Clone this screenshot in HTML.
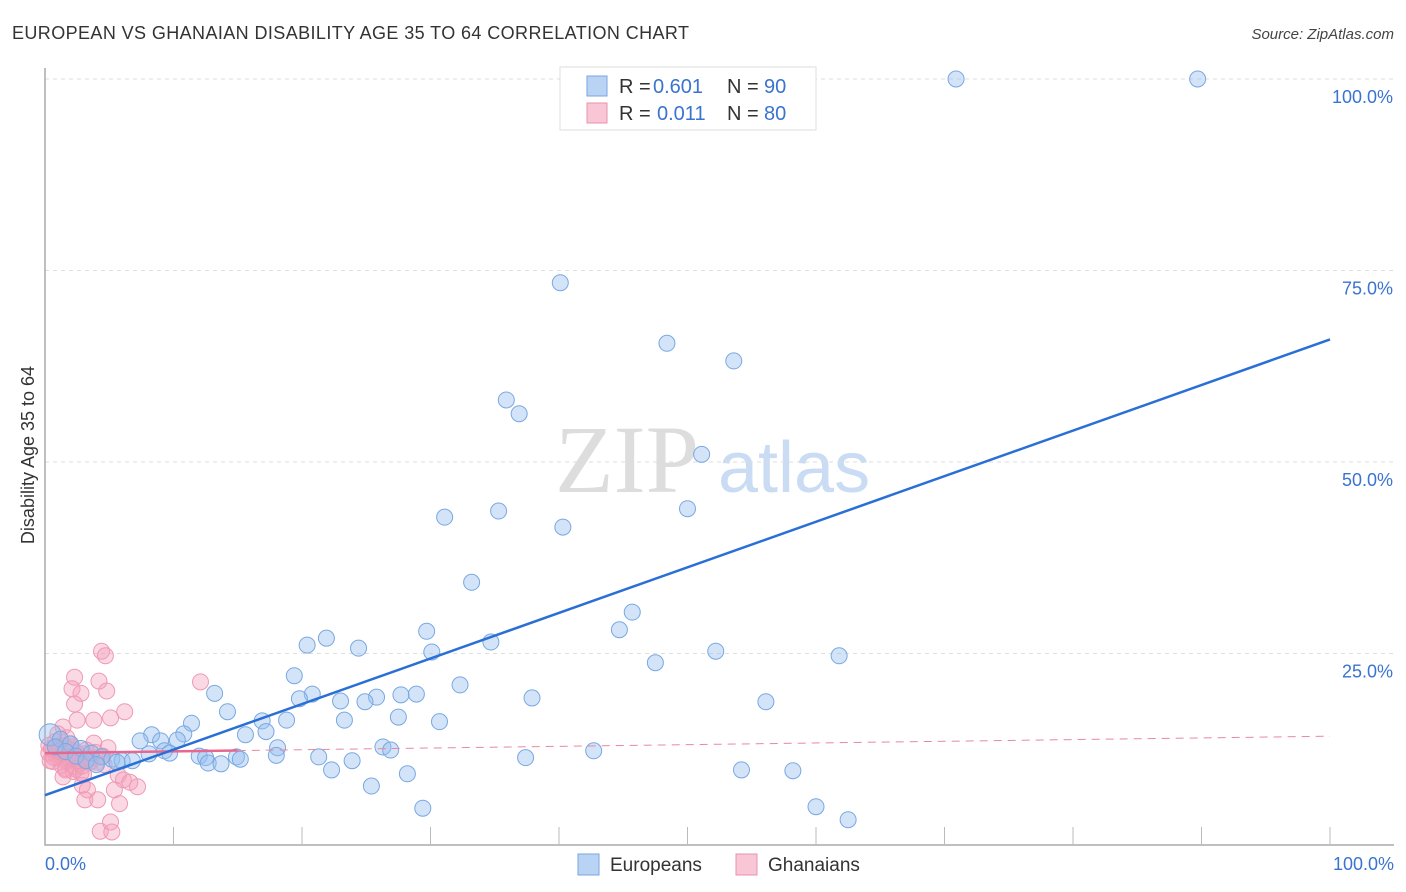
<!DOCTYPE html>
<html><head><meta charset="utf-8"><style>
body{margin:0;background:#fff;font-family:"Liberation Sans",sans-serif;}
svg{display:block}
</style></head><body>
<svg id="chart" width="1406" height="892" xmlns="http://www.w3.org/2000/svg">
<text x="12" y="39" font-size="18" fill="#333" textLength="677">EUROPEAN VS GHANAIAN DISABILITY AGE 35 TO 64 CORRELATION CHART</text>
<text x="1394" y="39" font-size="15" fill="#444" text-anchor="end" font-style="italic">Source: ZipAtlas.com</text>
<text x="555" y="492" font-size="96" fill="#ddd" font-family="Liberation Serif,serif">ZIP</text>
<text x="718" y="492" font-size="72" fill="#c9dcf3">atlas</text>
<g id="grid"></g>
<g id="pts"></g>
<g id="lines"></g>
<text x="34" y="455" font-size="18" fill="#333" text-anchor="middle" transform="rotate(-90 34 455)">Disability Age 35 to 64</text>
<text x="45" y="870" font-size="18" fill="#3a73d0">0.0%</text>
<text x="1394" y="870" font-size="18" fill="#3a73d0" text-anchor="end">100.0%</text>
<g>
<rect x="560" y="67" width="256" height="63" fill="#fff" stroke="#ddd"/>
<rect x="587" y="76" width="20" height="20" fill="#b9d3f5" stroke="#7aa6e0"/>
<rect x="587" y="103" width="20" height="20" fill="#f9c6d5" stroke="#ea93ad"/>
<text x="619" y="93" font-size="20" fill="#333">R =</text>
<text x="653" y="93" font-size="20" fill="#3a73d0">0.601</text>
<text x="727" y="93" font-size="20" fill="#333">N =</text>
<text x="764" y="93" font-size="20" fill="#3a73d0">90</text>
<text x="619" y="120" font-size="20" fill="#333">R =</text>
<text x="657" y="120" font-size="20" fill="#3a73d0">0.011</text>
<text x="727" y="120" font-size="20" fill="#333">N =</text>
<text x="764" y="120" font-size="20" fill="#3a73d0">80</text>
</g>
<g>
<rect x="578" y="854" width="21" height="21" fill="#b9d3f5" stroke="#7aa6e0"/>
<text x="610" y="871" font-size="19" fill="#333">Europeans</text>
<rect x="736" y="854" width="21" height="21" fill="#f9c6d5" stroke="#ea93ad"/>
<text x="768" y="871" font-size="19" fill="#333">Ghanaians</text>
</g>
</svg>
<script>
const yTicks=[25,50,75,100];
const yTickLabels=["25.0%","50.0%","75.0%","100.0%"];
const euroX=[70.9,89.7,40.1,48.4,53.6,35.9,36.9,51.1,31.1,35.3,40.3,50.0,33.2,45.7,44.7,29.7,21.9,20.4,34.7,24.4,30.1,52.2,61.8,47.5,19.4,32.3,13.2,20.8,19.8,25.8,27.7,28.9,37.9,23.0,24.9,56.1,14.2,27.5,16.9,18.8,23.3,30.7,11.4,8.3,10.8,17.2,15.6,7.4,9.0,10.3,18.1,9.3,26.3,26.9,42.7,8.1,9.7,12.0,12.5,14.9,18.0,21.3,15.2,12.7,13.7,23.9,37.4,22.3,28.2,54.2,58.2,25.4,29.4,60.0,62.5,0.4,1.2,2.0,2.8,3.6,4.4,5.2,6.0,6.8,0.8,1.6,2.4,3.2,4.0,5.6];
const euroY=[100,100,73.4,65.5,63.2,58.1,56.3,51.0,42.8,43.6,41.5,43.9,34.3,30.4,28.1,27.9,27.0,26.1,26.5,25.7,25.2,25.3,24.7,23.8,22.1,20.9,19.8,19.7,19.1,19.3,19.6,19.7,19.2,18.8,18.7,18.7,17.4,16.7,16.2,16.3,16.3,16.1,15.9,14.4,14.5,14.8,14.4,13.6,13.6,13.7,12.7,12.3,12.8,12.4,12.3,11.9,12.0,11.6,11.4,11.5,11.7,11.5,11.2,10.7,10.6,11.0,11.4,9.8,9.3,9.8,9.7,7.7,4.8,5.0,3.3,14.4,13.8,13.2,12.6,12.0,11.5,11.2,11.0,11.0,12.8,12.2,11.6,11.0,10.5,10.8];
const ghanaX=[4.4,4.7,12.1,2.3,2.1,2.8,4.8,4.2,2.3,2.5,3.8,6.2,5.1,1.4,3.8,4.9,4.0,5.7,6.1,6.6,7.2,2.9,3.3,5.4,3.1,4.1,5.8,4.3,5.2,5.1,1.6,0.3,0.6,0.9,1.2,1.5,1.8,2.1,2.4,2.7,3.0,0.4,0.8,1.1,1.4,1.7,2.0,2.3,2.6,3.4,0.5,1.0,1.3,1.9,2.2,2.5,3.5,0.7,1.0,1.5,2.0,2.8,3.2,3.6,4.5,0.3,0.6,1.2,1.7,2.4,2.9,1.1,1.6,2.2,3.0,3.9,4.6,0.9,1.4,2.6];
const ghanaY=[25.3,24.7,21.3,21.9,20.4,19.8,20.1,21.4,18.4,16.3,16.3,17.4,16.6,15.4,13.3,12.7,10.8,9.1,8.5,8.2,7.6,7.8,7.2,7.2,5.9,5.9,5.4,1.8,1.7,3.0,9.8,12.0,12.5,11.5,13.0,12.2,11.0,12.8,11.4,10.6,11.9,11.0,13.5,12.0,11.2,14.0,12.4,10.2,11.7,10.8,12.6,11.8,10.4,13.2,9.6,12.0,11.3,11.4,14.5,12.9,11.1,9.4,12.4,10.9,11.6,13.0,10.9,12.2,11.5,9.9,10.3,12.7,10.0,11.3,9.2,12.1,10.5,12.4,8.9,11.0];
const euroLine=[6.5,66.0];
const ghanaLine=[12.0,14.2];
const NS="http://www.w3.org/2000/svg";
const xS=v=>45+v*12.85, yS=v=>845-v*7.66;
function mk(t,a,p){const e=document.createElementNS(NS,t);for(const k in a)e.setAttribute(k,a[k]);p.appendChild(e);return e;}
const grid=document.getElementById('grid');
yTicks.forEach((v,i)=>{
 const l=mk('line',{x1:45,x2:1394,y1:yS(v),y2:yS(v),stroke:'#ddd','stroke-dasharray':'4,4'},grid);
 
 
 const t=mk('text',{x:1393,y:yS(v)+24,'font-size':18,fill:'#3a73d0','text-anchor':'end'},grid);
 t.textContent=yTickLabels[i];
 
 
});
const ax=mk('path',{d:'M45,68 V845 H1394',fill:'none',stroke:'#aaa','stroke-width':1.5},grid);


for(let i=1;i<=10;i++){const t=mk('line',{x1:xS(i*10),x2:xS(i*10),y1:827,y2:845,stroke:'#bbb'},grid);
 
 }
const pts=document.getElementById('pts');
ghanaX.forEach((x,i)=>{const c=mk('circle',{cx:xS(x),cy:yS(ghanaY[i]),r:8,fill:'rgba(244,160,188,0.4)',stroke:'#ee9ab4','stroke-width':1},pts);
 
 });
euroX.forEach((x,i)=>{const c=mk('circle',{cx:xS(x),cy:yS(euroY[i]),r:i==75?11:8,fill:'rgba(150,190,238,0.42)',stroke:'#79a8e2','stroke-width':1},pts);
 
 });
const ln=document.getElementById('lines');
const gl=(ghanaLine[1]-ghanaLine[0]);
const g1=mk('line',{x1:xS(0),y1:yS(ghanaLine[0]),x2:xS(15),y2:yS(ghanaLine[0]+gl*0.15),stroke:'#e8678f','stroke-width':2.5},ln);


const g2=mk('line',{x1:xS(15),y1:yS(ghanaLine[0]+gl*0.15),x2:xS(100),y2:yS(ghanaLine[1]),stroke:'#e8889f','stroke-width':1,'stroke-dasharray':'8,6'},ln);


const e1=mk('line',{x1:xS(0),y1:yS(euroLine[0]),x2:xS(100),y2:yS(euroLine[1]),stroke:'#2a6fd6','stroke-width':2.5},ln);


</script>
</body></html>
